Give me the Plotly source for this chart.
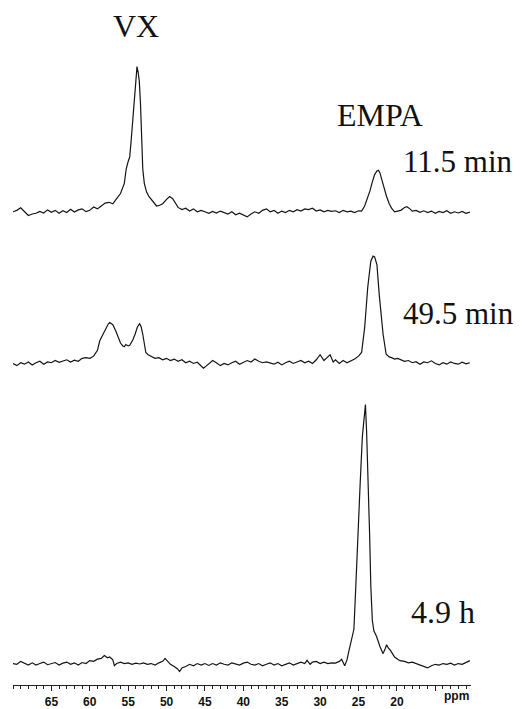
import plotly.graph_objects as go

# ---------------- data ----------------
# chemical shift in ppm, intensity in arbitrary units (baseline = 0)
ppm_11_5min = [70.0, 69.5, 69.0, 68.5, 68.0, 67.5, 67.0, 66.5, 66.0, 65.5, 65.0, 64.5, 64.0, 63.5,
               63.0, 62.5, 62.0, 61.5, 61.0, 60.5, 60.0, 59.5, 59.0, 58.5, 58.0, 57.5, 57.0, 56.5,
               56.0, 55.5, 55.25, 55.0, 54.8, 54.6, 54.4, 54.2, 54.0, 53.85, 53.7, 53.55, 53.4,
               53.25, 53.1, 52.9, 52.6, 52.3, 52.0, 51.7, 51.3, 50.9, 50.5, 50.0, 49.6, 49.2, 48.9,
               48.5, 48.0, 47.5, 47.0, 46.5, 46.0, 45.5, 45.0, 44.5, 44.0, 43.5, 43.0, 42.5, 42.0,
               41.5, 41.0, 40.5, 40.0, 39.5, 39.0, 38.5, 38.0, 37.5, 37.0, 36.5, 36.0, 35.5, 35.0,
               34.5, 34.0, 33.5, 33.0, 32.5, 32.0, 31.5, 31.0, 30.5, 30.0, 29.5, 29.0, 28.5, 28.0,
               27.5, 27.0, 26.5, 26.0, 25.5, 25.0, 24.6, 24.2, 23.8, 23.5, 23.2, 22.9, 22.6, 22.4,
               22.2, 22.0, 21.7, 21.35, 21.0, 20.7, 20.3, 20.0, 19.5, 19.0, 18.7, 18.3, 18.0, 17.5,
               17.0, 16.5, 16.0, 15.5, 15.0, 14.5, 14.0, 13.5, 13.0, 12.5, 12.0, 11.5, 11.0, 10.5]
int_11_5min = [0.5, 1.5, 3.2, 0.5, -2.0, -1.0, -0.5, 0.8, -0.3, 1.8, 0.2, 1.5, -0.5, 1.2,
               0.0, 2.2, 0.3, 1.8, 2.5, 0.6, 1.5, 3.8, 2.5, 4.5, 6.5, 7.0, 6.0, 9.5,
               13.0, 20.0, 30.0, 35.0, 38.0, 50.0, 63.0, 75.0, 88.0, 100.0, 96.0, 90.0, 75.0,
               50.0, 30.0, 20.0, 14.0, 11.0, 9.0, 7.0, 4.5, 5.0, 6.0, 9.0, 11.0, 9.5, 7.0,
               3.5, 2.0, 3.0, 1.0, 2.5, 0.5, 1.5, 0.5, -0.5, 0.8, -0.3, 1.0, 0.0, -1.0,
               0.5, -1.5, -0.5, -2.0, -3.0, -1.0, 0.5, -0.5, 1.5, 2.5, 0.5, 1.5, -0.5, 1.0,
               0.0, 1.5, 0.5, 2.0, 1.0, 2.5, 2.0, 3.0, 1.0, 1.8, 0.5, 1.5, 0.8, 1.2,
               0.0, 1.5, 0.5, 1.0, 0.0, 1.2, 1.0, 4.5, 10.0, 15.0, 21.0, 26.0, 28.5, 29.0,
               27.0, 23.0, 17.0, 11.0, 6.0, 3.0, 0.5, 1.0, 1.5, 3.5, 4.0, 2.5, 1.0, 1.5,
               0.2, 1.2, 0.0, 1.0, -0.5, 0.8, 0.0, 1.2, -0.5, 0.5, -0.3, 0.8, -0.5, 0.3]

ppm_49_5min = [70.0, 69.5, 69.0, 68.5, 68.0, 67.5, 67.0, 66.5, 66.0, 65.5, 65.0, 64.5, 64.0, 63.5,
               63.0, 62.5, 62.0, 61.5, 61.0, 60.5, 60.0, 59.5, 59.0, 58.7, 58.3, 57.9, 57.6, 57.4,
               57.0, 56.6, 56.3, 56.0, 55.7, 55.5, 55.3, 55.0, 54.8, 54.4, 54.1, 53.8, 53.5, 53.3,
               53.1, 52.9, 52.7, 52.4, 52.0, 51.5, 51.0, 50.5, 50.0, 49.5, 49.0, 48.5, 48.0, 47.5,
               47.0, 46.5, 46.0, 45.5, 45.2, 45.0, 44.5, 44.0, 43.5, 43.0, 42.5, 42.0, 41.5, 41.0,
               40.5, 40.0, 39.5, 39.0, 38.5, 38.0, 37.5, 37.0, 36.5, 36.0, 35.5, 35.0, 34.5, 34.0,
               33.5, 33.0, 32.5, 32.0, 31.5, 31.0, 30.5, 30.0, 29.5, 29.0, 28.7, 28.3, 28.0, 27.5,
               27.0, 26.5, 26.0, 25.5, 25.0, 24.6, 24.2, 23.8, 23.4, 23.1, 22.9, 22.6, 22.3, 22.0,
               21.8, 21.4, 21.0, 20.7, 20.3, 19.9, 19.6, 19.0, 18.5, 18.0, 17.5, 17.0, 16.5, 16.0,
               15.5, 15.0, 14.5, 14.0, 13.5, 13.0, 12.5, 12.0, 11.5, 11.0, 10.5]
int_49_5min = [0.0, -1.5, 0.5, -0.5, 1.0, -1.0, 0.5, 1.5, -0.5, 1.0, 0.5, 2.0, 0.8, 1.5,
               2.5, 1.0, 2.2, 1.5, 3.5, 4.0, 3.5, 5.0, 9.0, 15.5, 20.0, 24.5, 27.0, 28.0,
               26.5, 22.0, 17.5, 14.0, 12.0, 11.5, 13.0, 12.0, 12.5, 16.0, 20.0, 25.0, 27.2, 25.0,
               20.0, 12.0, 7.5, 6.0, 5.0, 3.5, 4.0, 2.5, 3.5, 2.0, 3.0, 1.5, 2.5, 0.5,
               1.5, 0.0, 0.8, -1.5, -3.2, -2.5, 0.0, 2.0, 0.5, -1.5, 0.0, -1.0, 0.5, 1.5,
               -0.5, 0.5, 2.0, 1.0, 3.0, 1.5, 0.5, 1.0, 0.0, -0.5, 0.8, -1.0, 0.5, 1.5,
               0.0, 1.0, 2.0, 0.5, 1.5, 0.0, 2.5, 6.0, 2.0, 4.5, 6.0, 1.0, 2.5, 0.0,
               2.0, 0.5, 1.5, 3.0, 5.0, 7.5, 24.5, 52.0, 70.0, 73.5, 73.0, 67.6, 47.0, 28.0,
               20.0, 6.3, 4.5, 4.0, 3.0, 3.5, 3.0, 1.5, 2.0, 0.5, 1.2, -0.5, 1.0, 0.5,
               1.8, 0.0, -1.0, 0.5, -0.5, 1.0, 0.0, -0.5, 0.8, -0.3, 0.5]

ppm_4_9h = [70.0, 69.5, 69.0, 68.5, 68.0, 67.5, 67.0, 66.5, 66.0, 65.5, 65.0, 64.5, 64.0, 63.5,
            63.0, 62.5, 62.0, 61.5, 61.0, 60.5, 60.0, 59.5, 59.0, 58.5, 58.1, 57.7, 57.4, 57.0,
            56.8, 56.5, 56.0, 55.5, 55.0, 54.5, 54.0, 53.5, 53.0, 52.5, 52.0, 51.5, 51.0, 50.5,
            50.2, 49.8, 49.5, 49.0, 48.6, 48.3, 48.0, 47.5, 47.0, 46.5, 46.0, 45.5, 45.0, 44.5,
            44.0, 43.5, 43.0, 42.5, 42.0, 41.5, 41.0, 40.5, 40.0, 39.5, 39.0, 38.5, 38.0, 37.5,
            37.0, 36.5, 36.0, 35.5, 35.0, 34.5, 34.0, 33.5, 33.0, 32.5, 32.0, 31.7, 31.3, 31.0,
            30.5, 30.0, 29.5, 29.0, 28.5, 28.0, 27.5, 27.2, 26.8, 26.5, 26.3, 26.0, 25.8, 25.6,
            25.35, 25.1, 24.8, 24.5, 24.25, 24.1, 23.95, 23.7, 23.55, 23.4, 23.2, 23.0, 22.65,
            22.2, 21.8, 21.5, 21.35, 21.1, 20.9, 20.6, 20.3, 19.9, 19.6, 19.0, 18.5, 18.0, 17.5,
            17.0, 16.5, 16.0, 15.5, 15.0, 14.5, 14.0, 13.5, 13.0, 12.5, 12.0, 11.5, 11.0, 10.5]
int_4_9h = [0.5, 0.0, 2.0, 0.5, -0.5, 1.0, -0.5, 0.5, 1.5, -0.3, 0.5, 1.2, -0.5, 0.8,
            1.5, 0.0, 1.0, -0.5, 1.2, 0.5, 2.5, 2.0, 3.5, 4.0, 6.0, 4.5, 5.0, 3.0,
            -1.0, 0.5, 1.5, 0.5, 1.0, 0.0, 0.8, 0.2, 1.0, 0.0, 0.5, -0.5, 1.0, 2.0,
            4.0, 1.5, 0.0, -1.5, -3.0, -5.0, -2.5, -1.5, 0.0, -1.0, 0.5, -0.5, 0.5, -0.8,
            0.5, -0.5, 1.0, 0.0, -0.5, 1.0, 0.5, -0.5, 0.8, 1.5, 0.0, -0.5, 0.5, -1.0,
            0.0, 1.0, -0.5, 0.5, -1.0, 0.0, 1.0, -0.5, 0.5, 1.5, 0.5, 2.7, 0.0, 1.5,
            2.0, 0.5, 1.5, 0.5, 1.0, 0.8, 2.0, 3.4, -1.0, 3.0, 8.0, 15.0, 20.0, 24.0,
            54.0, 88.0, 122.0, 156.0, 172.0, 178.0, 160.0, 122.0, 88.0, 54.0, 30.0, 23.0, 19.0,
            12.0, 7.3, 11.0, 13.4, 11.0, 10.0, 7.5, 5.0, 3.5, 2.5, 2.0, 1.0, 1.5, 0.5,
            0.0, -1.5, -2.5, -1.0, 0.0, -0.5, 0.5, 0.0, 0.8, -0.5, 0.5, 0.0, 1.0, 2.5]

major_ticks = [65, 60, 55, 50, 45, 40, 35, 30, 25, 20, 15]
major_labels = ["65", "60", "55", "50", "45", "40", "35", "30", "25", "20", ""]
label_vx = "VX"
label_empa = "EMPA"
time_labels = ["11.5 min", "49.5 min", "4.9 h"]

# ---------------- layout constants ----------------
PAGE_W, PAGE_H = 522, 709
OFF = 8                      # default body margin of the html page
W, H = PAGE_W - OFF, PAGE_H - OFF
PX_PER_UNIT = 1.47
baselines_px = [214, 366, 669]   # baseline row (page pixels) of each trace
LINE = "#141414"
SERIF = "Liberation Serif, Times New Roman, serif"
SANS = "Liberation Sans, Arial, sans-serif"

def fx(px):                 # page x pixel -> paper fraction
    return (px - OFF) / W

def fy(py):                 # page y pixel -> paper fraction
    return 1 - (py - OFF) / H

def yrange(base_px):
    r0 = -(H - (base_px - OFF)) / PX_PER_UNIT
    return [r0, r0 + H / PX_PER_UNIT]

fig = go.Figure()
series = [(ppm_11_5min, int_11_5min, "y3"), (ppm_49_5min, int_49_5min, "y2"), (ppm_4_9h, int_4_9h, "y")]
for x, y, ax in series:
    fig.add_trace(go.Scatter(x=x, y=y, mode="lines", yaxis=ax,
                             line=dict(color=LINE, width=1.2), hoverinfo="skip", showlegend=False))

hidden = dict(visible=False, fixedrange=True)
fig.update_layout(
    width=W, height=H,
    margin=dict(l=0, r=0, t=0, b=0),
    paper_bgcolor="white", plot_bgcolor="white",
    showlegend=False,
    xaxis=dict(domain=[fx(13), fx(471)], range=[70.0, 10.35], anchor="free",
               position=fy(690), showline=True, linecolor="#222", linewidth=1.3,
               showgrid=False, zeroline=False, ticks="outside", ticklen=5, tickwidth=1,
               tickcolor="#222", tickmode="array", tickvals=major_ticks, ticktext=major_labels,
               tickfont=dict(family=SANS, size=12, color="#111", weight="bold"),
               minor=dict(ticks="outside", ticklen=3, tickwidth=1, tickcolor="#222",
                          tickmode="linear", tick0=0, dtick=1)),
    yaxis=dict(domain=[0, 1], range=yrange(baselines_px[2]), **hidden),
    yaxis2=dict(domain=[0, 1], range=yrange(baselines_px[1]), overlaying="y", **hidden),
    yaxis3=dict(domain=[0, 1], range=yrange(baselines_px[0]), overlaying="y", **hidden),
)

def ann(text, x, y, size=32, family=SERIF, weight="normal"):
    fig.add_annotation(text=text, x=fx(x), y=fy(y), xref="paper", yref="paper",
                       showarrow=False,
                       font=dict(family=family, size=size, color="#111", weight=weight),
                       xanchor="center", yanchor="middle")

ann(label_vx, 136, 26)
ann(label_empa, 380, 116)
ann(time_labels[0], 458, 163, size=31)
ann(time_labels[1], 458, 316, size=31)
ann(time_labels[2], 443, 616)
ann("ppm", 456, 701, size=12, family=SANS, weight="bold")

fig.write_html("out.html")
